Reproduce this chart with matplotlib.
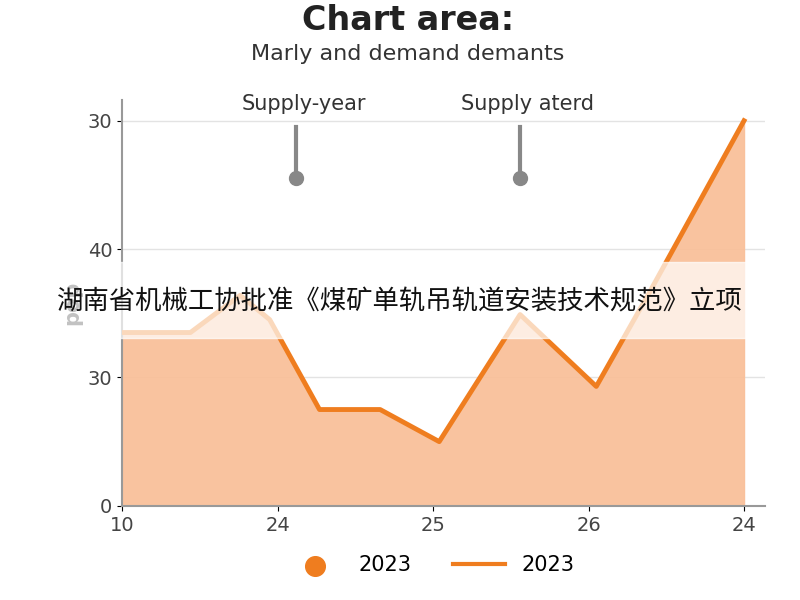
import matplotlib
matplotlib.use("Agg")
import matplotlib.pyplot as plt

x_vals = [0, 0.44, 0.76, 0.95, 1.27, 1.66, 2.04, 2.56, 3.05, 3.4, 4.0]
y_vals = [1.35, 1.35, 1.64, 1.45, 0.75, 0.75, 0.50, 1.49, 0.93, 1.68, 3.0]
x_ticks = [0, 1, 2, 3, 4]
x_labels = ["10", "24", "25", "26", "24"]
y_ticks = [0, 1, 2, 3]
y_labels = ["0", "30", "40", "30"]
ann_x = [1.12, 2.56]
ann_text = ["Supply-year", "Supply aterd"]

plt.rcParams['font.family'] = ['DejaVu Sans', 'Noto Sans CJK SC']
fig = plt.figure(figsize=(8, 6), dpi=100)
ax = fig.add_axes([0.1525, 0.157, 0.80375, 0.676])
ax.fill_between(x_vals, y_vals, 0, color="#f9c09a", alpha=0.95, zorder=1)
ax.plot(x_vals, y_vals, color="#ef7d1f", lw=3.5, zorder=3)
ax.set_xlim(0, 4.135)
ax.set_ylim(0, 3.16)
ax.set_xticks(x_ticks, x_labels, fontsize=14, color="#444")
ax.set_yticks(y_ticks, y_labels, fontsize=14, color="#444")
ax.grid(axis="y", color="#e3e3e3", lw=1)
ax.set_axisbelow(True)
for s in ["top", "right"]:
    ax.spines[s].set_visible(False)
for s in ["left", "bottom"]:
    ax.spines[s].set_color("#999")
    ax.spines[s].set_linewidth(1.5)
ax.set_ylabel("pop", fontsize=15, fontweight="bold", color="#333")
for xa, t in zip(ann_x, ann_text):
    ax.plot([xa, xa], [2.95, 2.55], color="#888", lw=3, zorder=4)
    ax.plot([xa], [2.55], "o", color="#888", ms=10, zorder=4)
    ax.text(xa + 0.05, 3.05, t, ha="center", va="bottom", fontsize=15, color="#333")
fig.text(0.51, 0.965, "Chart area:", ha="center", va="center", fontsize=24, fontweight="bold", color="#222")
fig.text(0.51, 0.91, "Marly and demand demants", ha="center", va="center", fontsize=16, color="#333")
fig.patches.append(plt.Rectangle((0, 0.437), 1, 0.127, transform=fig.transFigure, color="white", alpha=0.7, zorder=10))
fig.text(0.5, 0.497, "湖南省机械工协批准《煤矿单轨吊轨道安装技术规范》立项", ha="center", va="center",
         fontsize=19, color="#111", family=['Noto Sans CJK SC', 'DejaVu Sans'], zorder=11)
h1 = ax.scatter([], [], s=200, color="#ef7d1f")
h2, = ax.plot([], [], color="#ef7d1f", lw=3)
fig.legend([h1, h2], ["2023", "2023"], loc="lower center", bbox_to_anchor=(0.54, 0.01), ncol=2,
           frameon=False, fontsize=15, handlelength=2.5, columnspacing=2)
fig.savefig("out.png")
